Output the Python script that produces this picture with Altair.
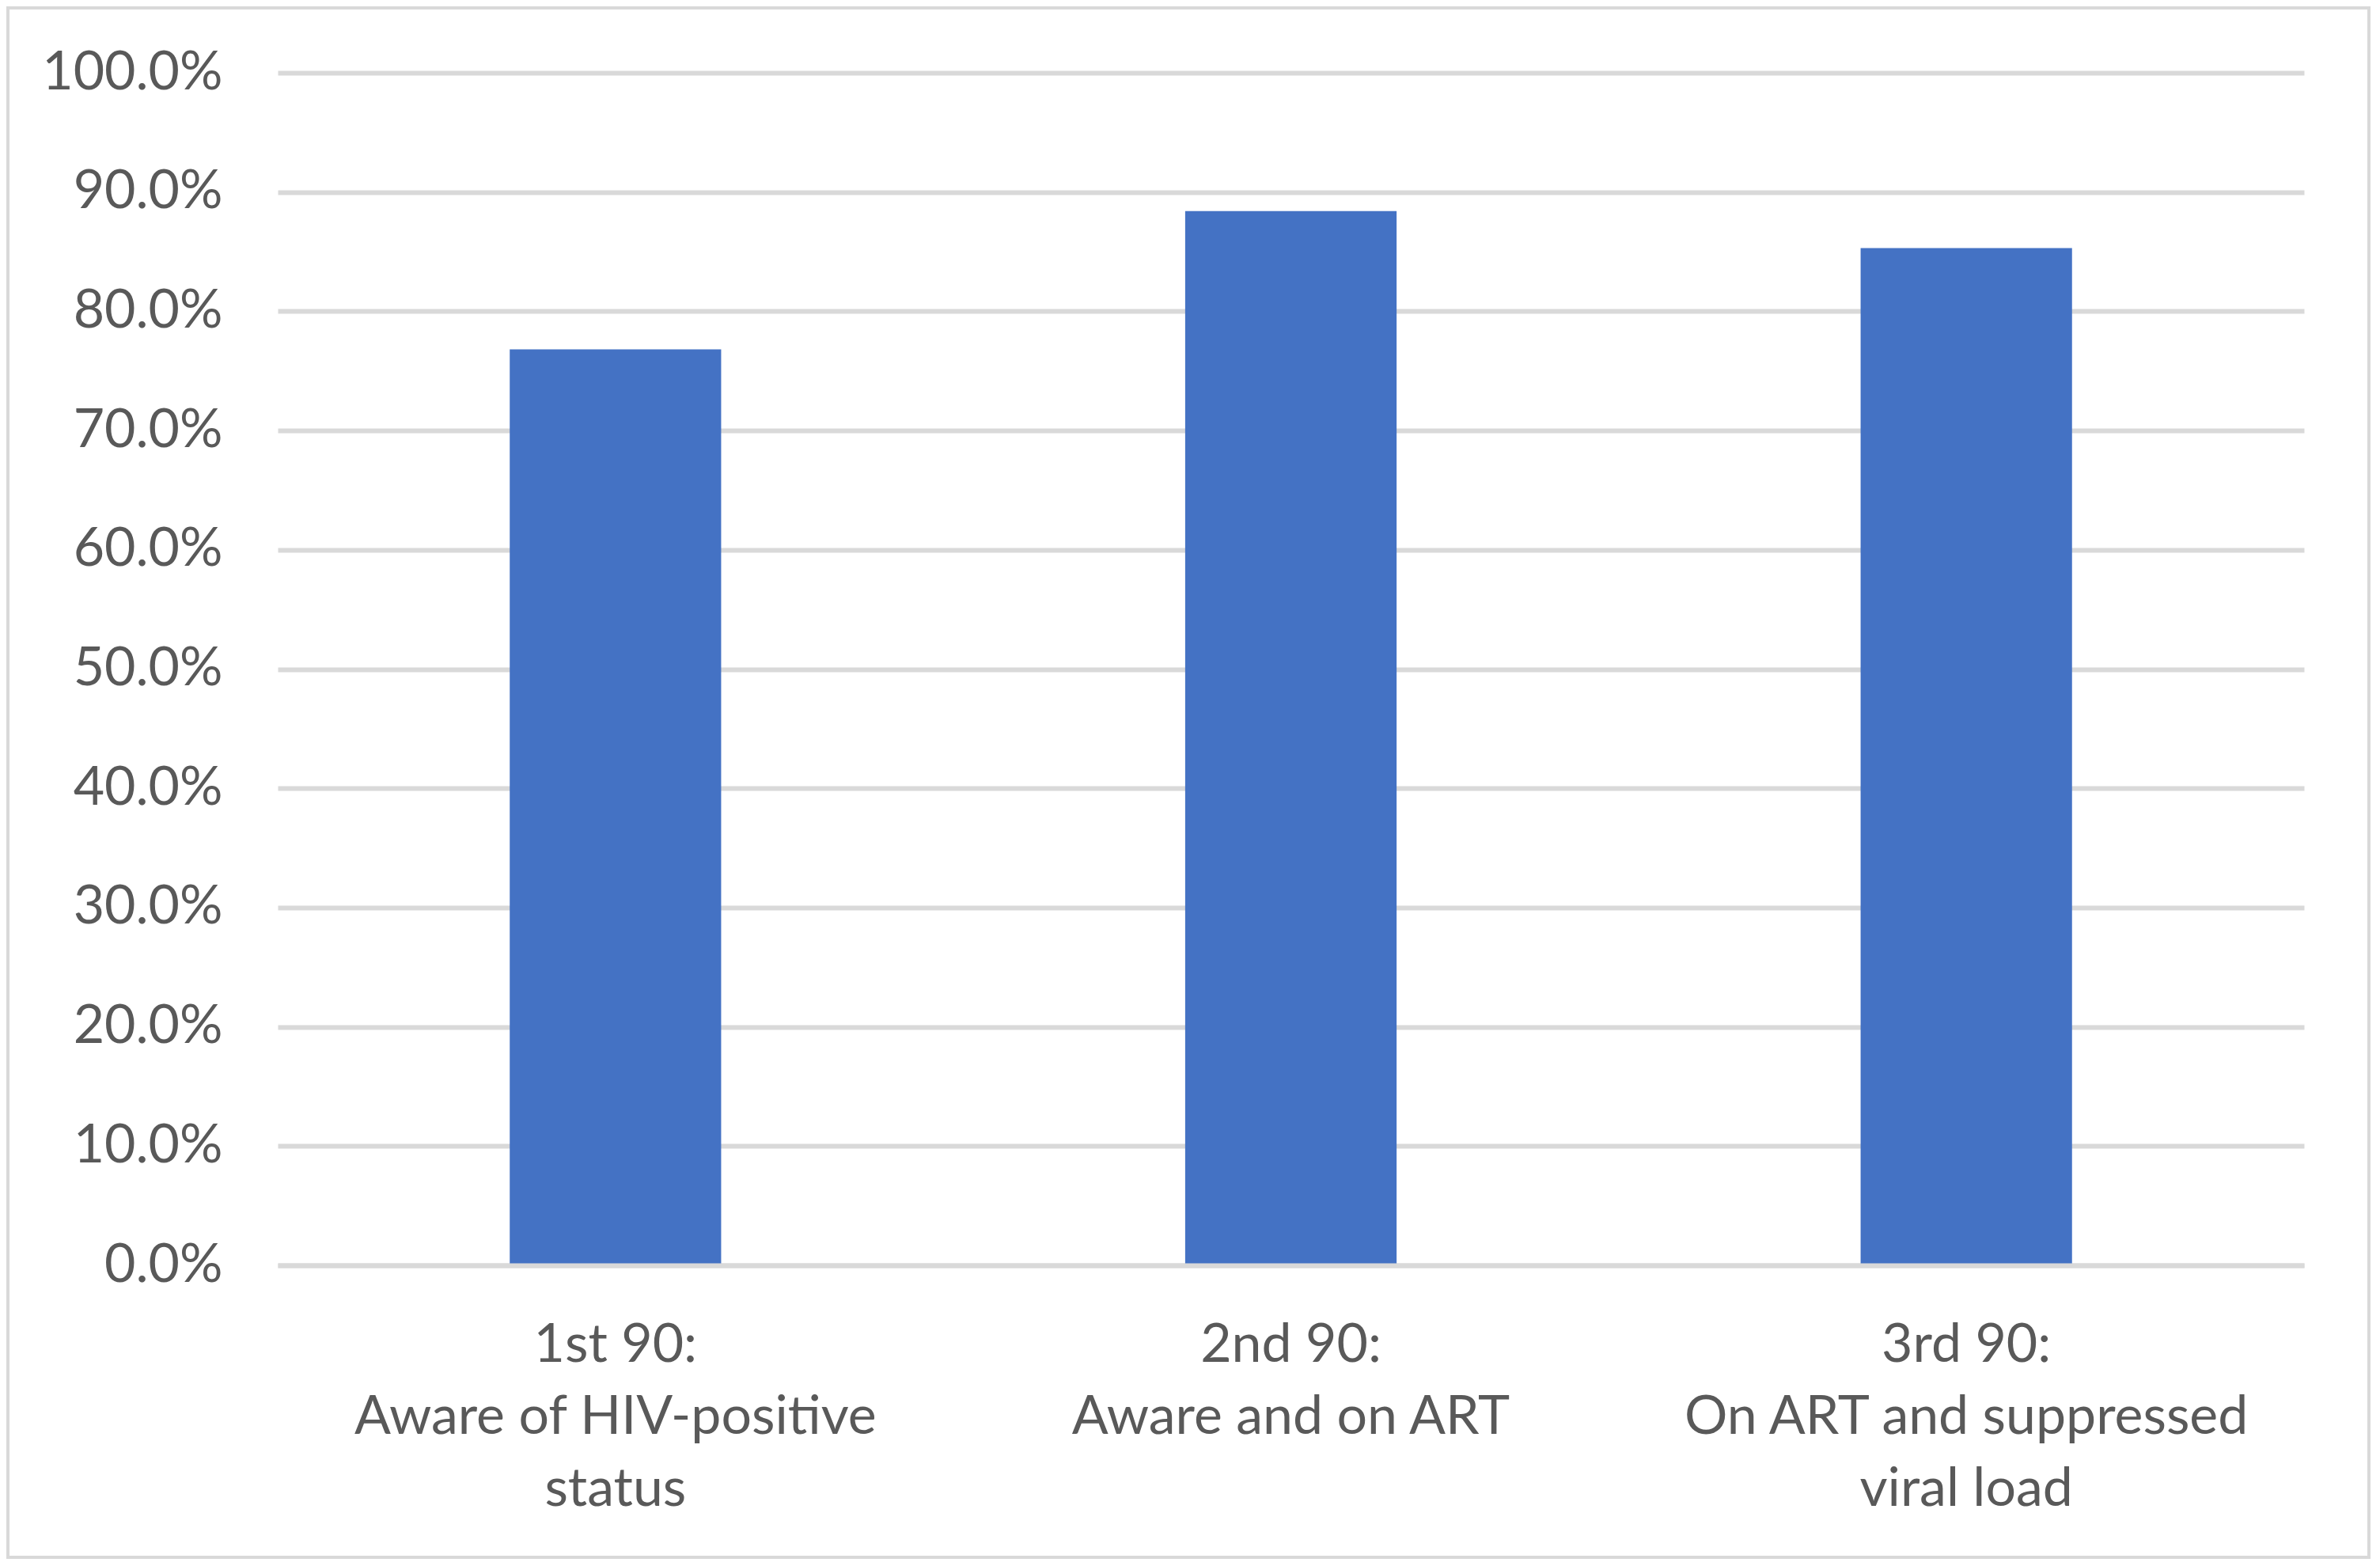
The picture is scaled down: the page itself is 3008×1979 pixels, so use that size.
import altair as alt
import pandas as pd

categories = [
    "1st 90:\nAware of HIV-positive\nstatus",
    "2nd 90:\nAware and on ART",
    "3rd 90:\nOn ART and suppressed\nviral load",
]
values = [0.768, 0.884, 0.853]
y_ticks = [0.0, 0.1, 0.2, 0.3, 0.4, 0.5, 0.6, 0.7, 0.8, 0.9, 1.0]

df = pd.DataFrame({"category": categories, "value": values})

FONT = "Lato"
GRID = "#d9d9d9"
TEXT = "#595959"

PLOT_W = 2561
PLOT_H = 1507
PAD_L, PAD_T, PAD_R, PAD_B = 343, 84, 86, 372

bars = alt.Chart(df).mark_bar(color="#4472C4", width=alt.RelativeBandSize(0.313)).encode(
    x=alt.X(
        "category:N",
        sort=categories,
        scale=alt.Scale(paddingInner=0, paddingOuter=0),
        axis=alt.Axis(
            title=None,
            labelAngle=0,
            labelExpr="split(datum.label, '\\n')",
            labelFont=FONT,
            labelFontSize=68,
            labelColor=TEXT,
            labelLineHeight=91,
            labelPadding=67,
            labelBaseline="top",
            labelLimit=0,
            ticks=False,
            tickSize=0,
            domain=True,
            domainColor=GRID,
            domainWidth=6,
            grid=False,
            zindex=1,
        ),
    ),
    y=alt.Y(
        "value:Q",
        scale=alt.Scale(domain=[0, 1], nice=False, zero=True),
        axis=alt.Axis(
            title=None,
            values=y_ticks,
            format=".1%",
            labelFont=FONT,
            labelFontSize=68,
            labelColor=TEXT,
            labelPadding=70,
            labelLimit=0,
            ticks=False,
            tickSize=0,
            domain=False,
            grid=True,
            gridColor=GRID,
            gridWidth=6,
        ),
    ),
)

frame = alt.Chart(alt.Data(values=[{}])).mark_rect(
    fill="transparent", stroke=GRID, strokeWidth=4
).encode(
    x=alt.value(-PAD_L + 2),
    x2=alt.value(PLOT_W + PAD_R - 4),
    y=alt.value(-PAD_T + 2),
    y2=alt.value(PLOT_H + PAD_B - 3),
)

chart = alt.layer(frame, bars).properties(
    width=PLOT_W,
    height=PLOT_H,
    autosize=alt.AutoSizeParams(type="none"),
    padding={"left": PAD_L, "top": PAD_T, "right": PAD_R, "bottom": PAD_B},
    background="white",
).configure_view(stroke=None)

chart.save("out.html", embed_options={"renderer": "svg", "actions": False})
